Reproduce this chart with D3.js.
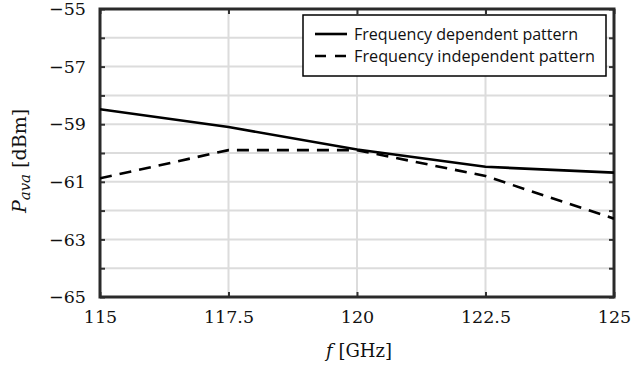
<!DOCTYPE html>
<meta charset="utf-8" />
<html>
<head>
<title>P_ava vs f</title>
<script src="https://d3js.org/d3.v7.min.js"></script>
<style>
body { margin: 0; background: #fff; }
</style>
</head>
<body>
<div id="viz"></div>
<script>

// data
var freq = [115, 117.5, 120, 122.5, 125];
var depPattern = [-58.48, -59.1, -59.88, -60.48, -60.68];
var indepPattern = [-60.88, -59.9, -59.9, -60.8, -62.28];
var xTicks = [115, 117.5, 120, 122.5, 125];
var yTicks = [-65, -64, -63, -62, -61, -60, -59, -58, -57, -56, -55];
var yLabels = [-65, -63, -61, -59, -57, -55];
var seriesNames = ["Frequency dependent pattern", "Frequency independent pattern"];

var width = 633, height = 365;
var margin = {left: 100, top: 9, right: 19, bottom: 68};
var serif = "'DejaVu Serif', serif";

var svg = d3.select("#viz").append("svg")
    .attr("width", width)
    .attr("height", height);

var x = d3.scaleLinear().domain([115, 125]).range([margin.left, width - margin.right]);
var y = d3.scaleLinear().domain([-65, -55]).range([height - margin.bottom, margin.top]);

// grid
svg.append("g").selectAll("line")
  .data(yTicks.slice(1, -1))
  .enter().append("line")
  .attr("x1", x(115)).attr("x2", x(125))
  .attr("y1", function(d) { return y(d); })
  .attr("y2", function(d) { return y(d); })
  .attr("stroke", "#dcdcdc").attr("stroke-width", 2);
svg.append("g").selectAll("line")
  .data(xTicks.slice(1, -1))
  .enter().append("line")
  .attr("y1", y(-65)).attr("y2", y(-55))
  .attr("x1", function(d) { return x(d); })
  .attr("x2", function(d) { return x(d); })
  .attr("stroke", "#dcdcdc").attr("stroke-width", 2);

// axes (ticks pointing inward on all four sides)
var fmt = function(d) { return yLabels.indexOf(d) >= 0 ? String(d).replace("-", "\u2212") : ""; };
var gl = svg.append("g")
  .attr("transform", "translate(" + x(115) + ",0)")
  .call(d3.axisLeft(y).tickValues(yTicks).tickSize(-5).tickPadding(14).tickFormat(fmt));
svg.append("g")
  .attr("transform", "translate(" + x(125) + ",0)")
  .call(d3.axisRight(y).tickValues(yTicks).tickSize(-5).tickFormat(""));
var gb = svg.append("g")
  .attr("transform", "translate(0," + y(-65) + ")")
  .call(d3.axisBottom(x).tickValues(xTicks).tickSize(-5).tickPadding(14).tickFormat(d3.format("")));
svg.append("g")
  .attr("transform", "translate(0," + y(-55) + ")")
  .call(d3.axisTop(x).tickValues(xTicks).tickSize(-5).tickFormat(""));

svg.selectAll(".domain").remove();
svg.selectAll(".tick line").attr("stroke", "#333").attr("stroke-width", 2);
gl.attr("font-family", serif).attr("font-size", 17.5);
gb.attr("font-family", serif).attr("font-size", 17.5);
svg.selectAll(".tick text").attr("fill", "#111");

// frame
svg.append("rect")
  .attr("x", x(115)).attr("y", y(-55))
  .attr("width", x(125) - x(115)).attr("height", y(-65) - y(-55))
  .attr("fill", "none").attr("stroke", "#2a2a2a").attr("stroke-width", 3);

// lines
var line = d3.line()
  .x(function(d, i) { return x(freq[i]); })
  .y(function(d) { return y(d); });

svg.append("clipPath").attr("id", "clip").append("rect")
  .attr("x", x(115)).attr("y", y(-55))
  .attr("width", x(125) - x(115)).attr("height", y(-65) - y(-55));

svg.append("path").datum(depPattern)
  .attr("d", line).attr("fill", "none")
  .attr("stroke", "#000").attr("stroke-width", 2.6)
  .attr("clip-path", "url(#clip)");
svg.append("path").datum(indepPattern)
  .attr("d", line).attr("fill", "none")
  .attr("stroke", "#000").attr("stroke-width", 2.6)
  .attr("stroke-dasharray", "12,8")
  .attr("clip-path", "url(#clip)");

// legend
var lg = svg.append("g").attr("transform", "translate(303,15)");
lg.append("rect").attr("width", 303).attr("height", 61)
  .attr("fill", "#fff").attr("stroke", "#000").attr("stroke-width", 1.5);
seriesNames.forEach(function(name, i) {
  var yy = 19 + i * 22;
  lg.append("line").attr("x1", 12).attr("x2", 44).attr("y1", yy).attr("y2", yy)
    .attr("stroke", "#000").attr("stroke-width", 2.6)
    .attr("stroke-dasharray", i == 1 ? "11,9" : null);
  lg.append("text").attr("x", 51).attr("y", yy + 5.5)
    .attr("textLength", i == 0 ? 224 : 241).attr("lengthAdjust", "spacingAndGlyphs")
    .style("font-family", "'Open Sans', sans-serif").style("font-size", "15.5px")
    .style("fill", "#111")
    .text(name);
});

// axis titles
svg.append("text")
  .attr("x", 359).attr("y", 357)
  .attr("text-anchor", "middle")
  .attr("font-family", serif).attr("font-size", 18).attr("fill", "#111")
  .html('<tspan font-style="italic">f</tspan>\u00a0[GHz]');

svg.append("text")
  .attr("transform", "translate(26,161) rotate(-90)")
  .attr("text-anchor", "middle")
  .attr("font-family", serif).attr("font-size", 19).attr("fill", "#111")
  .html('<tspan font-style="italic">P</tspan><tspan font-style="italic" font-size="15" dy="4">ava</tspan><tspan dy="-4">\u00a0[dBm]</tspan>');

</script>
</body>
</html>
